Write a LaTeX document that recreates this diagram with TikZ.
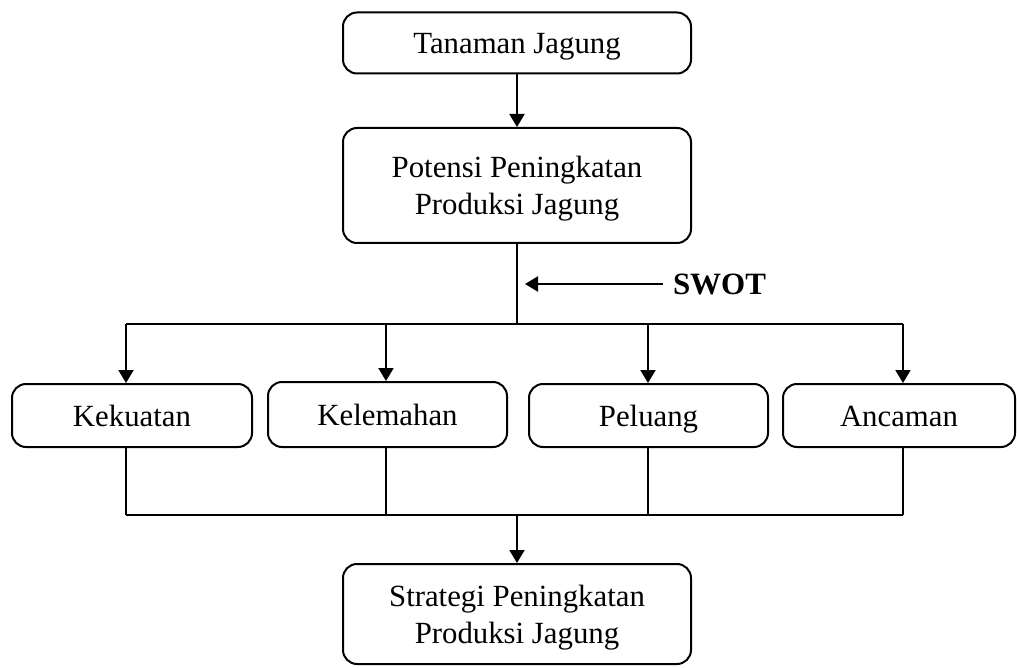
\documentclass[tikz,border=0pt]{standalone}
\usepackage{fontspec}
\setmainfont{Liberation Serif}
\usetikzlibrary{arrows.meta}
\begin{document}
\begin{tikzpicture}[x=0.5pt,y=-0.5pt,line width=1pt,
  box/.style={draw,rounded corners=7pt,align=center,inner sep=0pt,text depth=0pt,
    font=\fontsize{15.4}{18.5}\selectfont},
  single/.style={box,text height=10.5pt},
  arr/.style={-{Triangle[length=6.5pt,width=7.5pt]}}]
\useasboundingbox (0,0) rectangle (1017,668);
\node[single,minimum width=174pt,minimum height=30.5pt] (tanaman) at (517,43) {Tanaman Jagung};
\node[box,minimum width=174pt,minimum height=57.5pt] (potensi) at (517,185.5) {Potensi Peningkatan\\Produksi Jagung};
\node[single,minimum width=120pt,minimum height=31.5pt] (kekuatan) at (132,415.5) {Kekuatan};
\node[single,minimum width=119.5pt,minimum height=32.5pt] (kelemahan) at (387.5,414.5) {Kelemahan};
\node[single,minimum width=119.5pt,minimum height=31.5pt] (peluang) at (648.5,415.5) {Peluang};
\node[single,minimum width=116pt,minimum height=31.5pt] (ancaman) at (899,415.5) {Ancaman};
\node[box,minimum width=174pt,minimum height=50pt] (strategi) at (517,614) {Strategi Peningkatan\\Produksi Jagung};
\node[font=\bfseries\fontsize{15.5}{18}\selectfont,anchor=west,inner sep=4.5pt] (swot) at (663,284) {SWOT};
\coordinate (swottip) at (525,284);
\coordinate (a1) at (126,324); \coordinate (b1) at (126,515);
\coordinate (a2) at (386,324); \coordinate (b2) at (386,515);
\coordinate (a3) at (648,324); \coordinate (b3) at (648,515);
\coordinate (a4) at (903,324); \coordinate (b4) at (903,515);
\draw[arr] (tanaman) -- (potensi);
\draw (potensi.south) -- (potensi.south |- a1);
\draw[arr] (swot.west) -- (swottip);
\draw (a1) -- (a4) (b1) -- (b4);
\foreach \n/\i in {kekuatan/1,kelemahan/2,peluang/3,ancaman/4}{
  \draw[arr] (a\i) -- (a\i |- \n.north);
  \draw (a\i |- \n.south) -- (b\i);
}
\draw[arr] (potensi.south |- b1) -- (strategi);
\end{tikzpicture}
\end{document}
